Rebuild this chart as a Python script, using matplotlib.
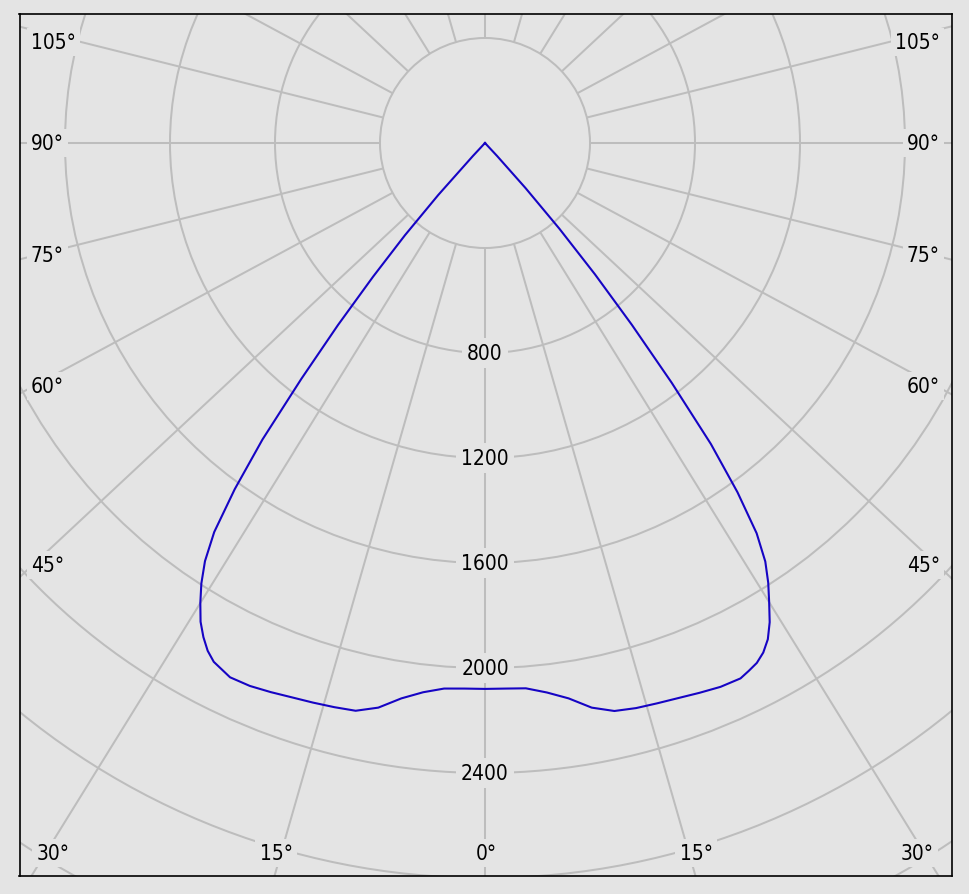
import numpy as np
import matplotlib
matplotlib.use("Agg")
import matplotlib.pyplot as plt
from matplotlib.patches import Ellipse

# ---------------- data ----------------
gamma = [0, 2, 4, 6, 8, 10, 12, 14, 16, 18, 20, 22, 24, 25, 26, 27, 28, 29, 30,
         31, 32, 33, 34, 35, 36, 37, 38, 39, 40, 41, 42, 90]
# right half (C0) and left half (C180) luminous intensity, cd
c0 = [2229, 2229, 2232, 2256, 2290, 2341, 2371, 2378, 2380, 2383, 2389, 2395, 2393,
      2378, 2362, 2335, 2295, 2237, 2165, 2095, 2015, 1900, 1720, 1500, 1210, 930,
      680, 450, 240, 70, 0, 0]
c180 = [2229, 2229, 2233, 2255, 2290, 2341, 2370, 2374, 2377, 2380, 2386, 2391, 2388,
        2372, 2357, 2327, 2285, 2235, 2169, 2098, 2013, 1894, 1705, 1478, 1190, 931,
        692, 485, 277, 70, 0, 0]
ring_values = [400, 800, 1200, 1600, 2000, 2400, 2800, 3200, 3600, 4000]
ring_labels = [800, 1200, 1600, 2000, 2400]
spoke_angles = list(range(0, 360, 15))
side_labels = ["105°", "90°", "75°", "60°", "45°"]
bottom_labels = ["30°", "15°", "0°", "15°", "30°"]

# ---------------- style / layout ----------------
BG = "#e4e4e4"
GRID = "#bdbdbd"
CURVE = "#1604c4"
W, H = 969, 895
# plot frame in pixels
L, R_, T, B = 19.5, 951.5, 15.0, 877.0
CX, CY = 485.0, 144.0          # pole position (pixels)
K = 0.2625                     # px per cd
S = 0.933                      # vertical compression of angular mapping

plt.rcParams["font.family"] = ["DejaVu Sans"]
FONT = dict(family="DejaVu Sans", stretch="condensed", size=15)

fig = plt.figure(figsize=(W / 100, H / 100), dpi=100, facecolor=BG)
ax = fig.add_axes([L / W, (H - B) / H, (R_ - L) / W, (B - T) / H])
ax.set_facecolor(BG)
ax.set_xlim((L - CX) / K, (R_ - CX) / K)
ax.set_ylim(-(B - CY) / (K * S), (CY - T) / (K * S))
ax.set_xticks([])
ax.set_yticks([])
for sp in ax.spines.values():
    sp.set_color("black")
    sp.set_linewidth(1.2)

# rings (circular on screen)
for rv in ring_values:
    ax.add_patch(Ellipse((0, 0), 2 * rv, 2 * rv / S, fill=False,
                         edgecolor=GRID, lw=1.45, zorder=1))

# spokes, starting at the innermost ring
inner = ring_values[0]
for a in spoke_angles:
    th = np.radians(a)
    dx, dy = np.sin(th), -np.cos(th)
    t0 = inner / np.sqrt(np.sin(th) ** 2 + (S * np.cos(th)) ** 2)
    ax.plot([t0 * dx, 8000 * dx], [t0 * dy, 8000 * dy], color=GRID, lw=1.45,
            zorder=1, solid_capstyle="butt")

# ring labels
for rv in ring_labels:
    ax.text(0, -rv / S, str(rv), ha="center", va="center", zorder=5,
            bbox=dict(boxstyle="square,pad=0.25", fc=BG, ec="none"), **FONT)

# intensity curve: left half (C180) from 90 deg down to 0, then right half (C0)
g = np.radians(np.array(gamma, dtype=float))
left_t = -g[::-1]
left_v = np.array(c180, dtype=float)[::-1]
right_t = g
right_v = np.array(c0, dtype=float)
theta = np.concatenate([left_t, right_t])
val = np.concatenate([left_v, right_v])
ax.plot(val * np.sin(theta), -val * np.cos(theta), color=CURVE, lw=1.5,
        zorder=3, solid_joinstyle="round")

# angle labels (positions in pixels)
side_y = [43, 144, 256, 387, 566]
bottom_x = [53, 276, 486, 696, 917]
lab_kw = dict(va="center", zorder=6,
              bbox=dict(boxstyle="square,pad=0.2", fc=BG, ec="none"), **FONT)
for txt, py in zip(side_labels, side_y):
    fig.text(31 / W, 1 - py / H, txt, ha="left", **lab_kw)
    fig.text(940 / W, 1 - py / H, txt, ha="right", **lab_kw)
for txt, px in zip(bottom_labels, bottom_x):
    fig.text(px / W, 1 - 854 / H, txt, ha="center", **lab_kw)

fig.savefig("out.png", dpi=100, facecolor=BG)
